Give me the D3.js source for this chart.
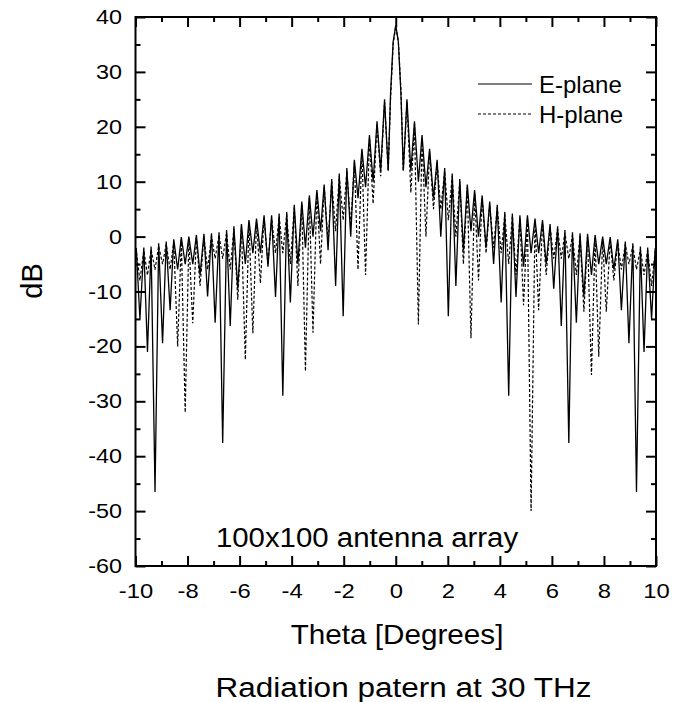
<!DOCTYPE html>
<html>
<head>
<meta charset="utf-8">
<script src="https://cdn.jsdelivr.net/npm/d3@7/dist/d3.min.js"></script>
<style>
  body { margin: 0; background: #fff; }
  text { font-family: Arial, "Liberation Sans", sans-serif; fill: #000; }
</style>
</head>
<body>
<div id="chart"></div>
<script>
// sample angles (deg), shared by both planes
const theta = [
  -10, -9.97, -9.83, -9.68, -9.54, -9.40, -9.25, -9.11, -8.96, -8.82, -8.67, -8.53, -8.38, -8.24, -8.09, -7.95, -7.80,
  -7.66, -7.52, -7.37, -7.23, -7.08, -6.94, -6.79, -6.65, -6.50, -6.36, -6.22, -6.07, -5.93, -5.78, -5.64, -5.49,
  -5.35, -5.20, -5.06, -4.91, -4.77, -4.62, -4.48, -4.34, -4.19, -4.05, -3.90, -3.76, -3.61, -3.47, -3.32, -3.18,
  -3.03, -2.89, -2.75, -2.60, -2.46, -2.31, -2.17, -2.02, -1.88, -1.73, -1.59, -1.45, -1.30, -1.16, -1.01, -0.87,
  -0.72, -0.58, -0.43, -0.29, -0.2, -0.1, 0,
  0.1, 0.2, 0.29, 0.43, 0.58, 0.72, 0.87, 1.01, 1.16, 1.30, 1.45, 1.59, 1.73, 1.88, 2.02, 2.17, 2.31, 2.46, 2.60,
  2.75, 2.89, 3.03, 3.18, 3.32, 3.47, 3.61, 3.76, 3.90, 4.05, 4.19, 4.34, 4.48, 4.62, 4.77, 4.91, 5.06, 5.20, 5.35,
  5.49, 5.64, 5.78, 5.93, 6.07, 6.22, 6.36, 6.50, 6.65, 6.79, 6.94, 7.08, 7.23, 7.37, 7.52, 7.66, 7.80, 7.95, 8.09,
  8.24, 8.38, 8.53, 8.67, 8.82, 8.96, 9.11, 9.25, 9.40, 9.54, 9.68, 9.83, 9.97, 10
];

const ePlane = [
  -3, -2.1, -15, -2.0, -21, -1.8, -46.5, -1.2, -19.4, -0.9, -13.4, -0.5, -6, -0.1, -5, 0, -5,
  0.3, -7, 0.5, -10.9, 0.6, -15.7, 0.8, -37.6, 1.2, -16.3, 1.9, -9.5, 2.3, -5, 3.0, -3,
  3.3, -3, 3.9, -5.5, 3.9, -11, 4.2, -29, 4.5, -12, 5.8, -5, 6.4, -2, 7.5, 0,
  8.5, 1, 9.5, -2.5, 10.5, -9, 11.5, -14.5, 12.5, 0, 14, 7, 16, 9, 18.5, 10,
  21, 12, 25, 12, 26, 35.5, 38.5,
  35.5, 26, 12, 25, 12, 21, 10, 18.5, 9, 16, 7, 14, 0, 12.5, -14.5, 11.5, -9, 10.5, -2.5,
  9.5, 1, 8.5, 0, 7.5, -2, 6.4, -5, 5.8, -12, 4.5, -29, 4.2, -11, 3.9, -5.5, 3.9, -3, 3.3,
  -3, 3.0, -5, 2.3, -9.5, 1.9, -16.3, 1.2, -37.6, 0.8, -15.7, 0.6, -10.9, 0.5, -7, 0.3, -5, 0, -5,
  -0.1, -6, -0.5, -13.4, -0.9, -19.4, -1.2, -46.5, -1.8, -21, -2.0, -15, -2.1, -3
];

const hPlane = [
  -5, -2.6, -8, -2.5, -7, -2.3, -6, -1.7, -5, -1.4, -6, -1.0, -20, -0.6, -32, -0.5, -15.8,
  -0.2, -9, 0, -6, 0.1, -4, 0.3, -4, 0.7, -6, 1.4, -11.5, 1.8, -22.4, 2.5, -17.6,
  2.8, -8.5, 3.4, -5, 3.4, -3, 3.7, -3, 4.0, -5, 5.3, -9, 5.9, -24.5, 7.0, -17.5,
  8.0, -5, 9.0, -1, 10.0, 1, 11.0, 3, 12.0, 2, 13.5, -6, 15.5, -7, 18, 6,
  20.5, 11, 24.5, 12, 25, 35, 38.3,
  35.5, 26.5, 12, 24.5, 8, 20.5, -16, 18, 0, 15.5, 5, 13.5, 5, 12, 3, 11, 0, 10, -5,
  9, -18.5, 8, -8, 7, -3, 5.9, -2, 5.3, -3, 4.0, -5, 3.7, -7, 3.4, -12.5, 3.4, -50, 2.8,
  -13.4, 2.5, -7, 1.8, -4, 1.4, -4, 0.7, -4, 0.3, -7, 0.1, -13.7, 0, -25.2, -0.2, -21.9, -0.5, -13.7,
  -0.6, -8, -1.0, -6, -1.4, -5, -1.7, -6, -2.3, -7, -2.5, -9, -2.6, -5
];

const xMajor = [-10, -8, -6, -4, -2, 0, 2, 4, 6, 8, 10];
const xMinor = [-9, -7, -5, -3, -1, 1, 3, 5, 7, 9];
const yMajor = [-60, -50, -40, -30, -20, -10, 0, 10, 20, 30, 40];
const yMinor = [-55, -45, -35, -25, -15, -5, 5, 15, 25, 35];

const width = 677;
const height = 702;
const margin = { top: 17, right: 21, bottom: 136, left: 135.5 };

const svg = d3.select('#chart')
  .append('svg')
  .attr('width', width)
  .attr('height', height)
  .style('background', '#fff');

const x = d3.scaleLinear()
  .domain([-10, 10])
  .range([margin.left, width - margin.right]);

const y = d3.scaleLinear()
  .domain([-60, 40])
  .range([height - margin.bottom, margin.top]);

// curves
const line = d3.line()
  .x((d, i) => x(theta[i]))
  .y(d => y(d));

svg.append('path')
  .attr('d', line(hPlane))
  .attr('fill', 'none')
  .attr('stroke', '#000')
  .attr('stroke-width', 1.2)
  .attr('stroke-dasharray', '3,2');

svg.append('path')
  .attr('d', line(ePlane))
  .attr('fill', 'none')
  .attr('stroke', '#000')
  .attr('stroke-width', 1.3);

// axes, ticks pointing inward on all four sides
const plainLabel = d => String(d); // keep ASCII hyphen like the original

function tickAxis(gen, values, size, transform, labels) {
  const g = svg.append('g')
    .attr('transform', transform)
    .call(gen.tickValues(values).tickSize(-size).tickFormat(labels ? plainLabel : ''));
  g.select('.domain').remove();
  g.selectAll('line').attr('stroke-width', 2);
  return g;
}

const bottom = tickAxis(d3.axisBottom(x).tickPadding(17), xMajor, 10, `translate(0,${y(-60)})`, true);
tickAxis(d3.axisBottom(x), xMinor, 5, `translate(0,${y(-60)})`, false);
tickAxis(d3.axisTop(x), xMajor, 10, `translate(0,${y(40)})`, false);
tickAxis(d3.axisTop(x), xMinor, 5, `translate(0,${y(40)})`, false);
const left = tickAxis(d3.axisLeft(y).tickPadding(13), yMajor, 10, `translate(${x(-10)},0)`, true);
tickAxis(d3.axisLeft(y), yMinor, 5, `translate(${x(-10)},0)`, false);
tickAxis(d3.axisRight(y), yMajor, 10, `translate(${x(10)},0)`, false);
tickAxis(d3.axisRight(y), yMinor, 5, `translate(${x(10)},0)`, false);

bottom.selectAll('text')
  .attr('font-size', 20.5)
  .attr('font-family', 'Arial, "Liberation Sans", sans-serif')
  .attr('transform', 'scale(1.16,1)');

left.selectAll('text')
  .attr('font-size', 20.5)
  .attr('font-family', 'Arial, "Liberation Sans", sans-serif')
  .attr('x', -13.5 / 1.14)
  .attr('transform', 'scale(1.14,1)');

// frame
svg.append('rect')
  .attr('x', x(-10))
  .attr('y', y(40))
  .attr('width', x(10) - x(-10))
  .attr('height', y(-60) - y(40))
  .attr('fill', 'none')
  .attr('stroke', '#000')
  .attr('stroke-width', 2);

// legend
const legend = [
  { label: 'E-plane', dash: null, ly: 84, ty: 93 },
  { label: 'H-plane', dash: '3,2', ly: 114, ty: 122.5 }
];
legend.forEach(d => {
  svg.append('line')
    .attr('x1', 478).attr('x2', 532)
    .attr('y1', d.ly).attr('y2', d.ly)
    .attr('stroke', '#000')
    .attr('stroke-width', 1.2)
    .attr('stroke-dasharray', d.dash);
  svg.append('text')
    .attr('x', 539).attr('y', d.ty)
    .attr('font-size', 24)
    .text(d.label);
});

// annotations and titles
svg.append('text')
  .attr('transform', 'translate(367,547) scale(1.05,1)')
  .attr('text-anchor', 'middle')
  .attr('font-size', 28)
  .text('100x100 antenna array');

svg.append('text')
  .attr('transform', 'translate(397,644) scale(1.06,1)')
  .attr('text-anchor', 'middle')
  .attr('font-size', 28)
  .text('Theta [Degrees]');

svg.append('text')
  .attr('transform', 'translate(403.5,697) scale(1.125,1)')
  .attr('text-anchor', 'middle')
  .attr('font-size', 28)
  .text('Radiation patern at 30 THz');

svg.append('text')
  .attr('transform', 'translate(42,281) rotate(-90)')
  .attr('text-anchor', 'middle')
  .attr('font-size', 29)
  .text('dB');
</script>
</body>
</html>
